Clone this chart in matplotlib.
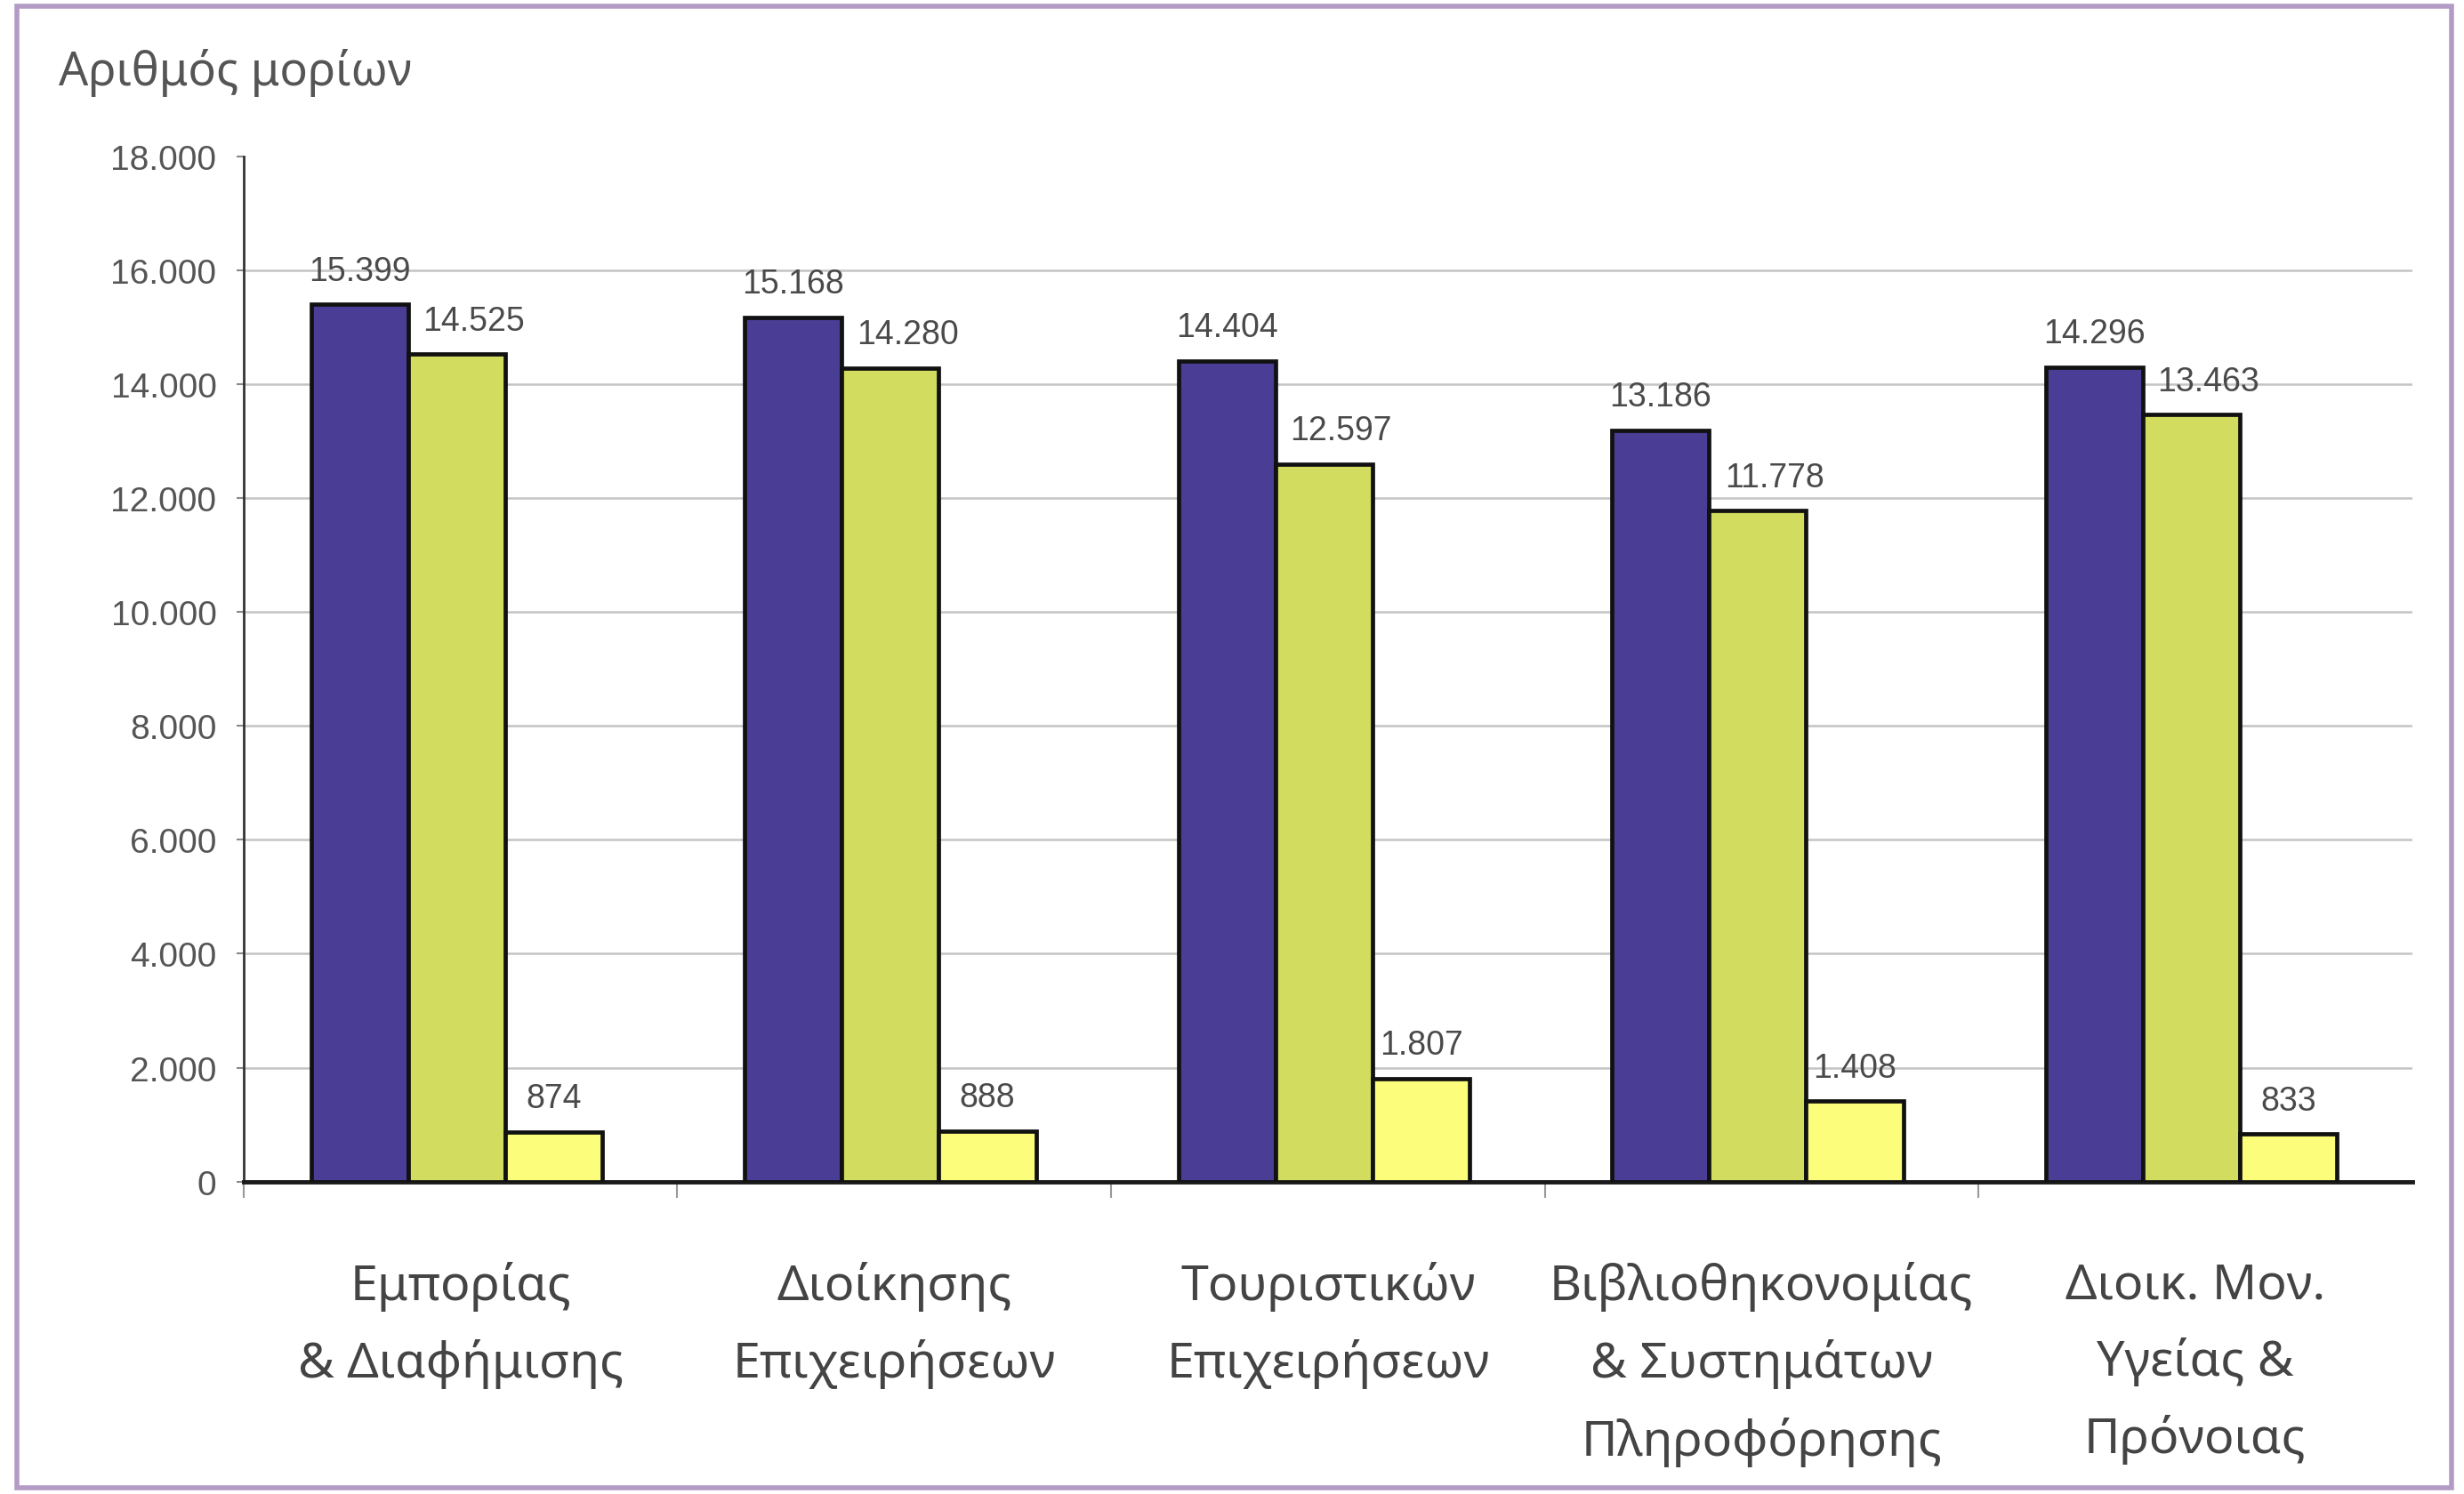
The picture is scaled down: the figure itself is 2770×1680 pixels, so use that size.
import matplotlib
matplotlib.use('Agg')
import matplotlib.pyplot as plt
from matplotlib.patches import Rectangle

# data
categories = ['Εμπορίας\n& Διαφήμισης', 'Διοίκησης\nΕπιχειρήσεων', 'Τουριστικών\nΕπιχειρήσεων',
              'Βιβλιοθηκονομίας\n& Συστημάτων\nΠληροφόρησης', 'Διοικ. Μον.\nΥγείας &\nΠρόνοιας']
series_1 = [15399, 15168, 14404, 13186, 14296]
series_2 = [14525, 14280, 12597, 11778, 13463]
series_3 = [874, 888, 1807, 1408, 833]
y_ticks = [0, 2000, 4000, 6000, 8000, 10000, 12000, 14000, 16000, 18000]
grid_values = [2000, 4000, 6000, 8000, 10000, 12000, 14000, 16000]
y_title = 'Αριθμός μορίων'

colors = ['#4a3d95', '#d2dc5e', '#fdfd7c']
offsets = [-0.233, -0.009, 0.215]
label_dx = [0, 0.04, 0]
width = 0.224


def fmt(v):
    return f'{v:,}'.replace(',', '.')


fig = plt.figure(figsize=(27.7, 16.81), dpi=100)
ax = fig.add_axes([0.0989, 0.209, 0.880, 0.686])

x = list(range(len(categories)))
for s, vals in enumerate([series_1, series_2, series_3]):
    xs = [i + offsets[s] for i in x]
    ax.bar(xs, vals, width=width, color=colors[s], edgecolor='#111111', linewidth=3.4, zorder=3)
    for xi, v in zip(xs, vals):
        ax.annotate(fmt(v), (xi + label_dx[s], v), xytext=(0, 14), textcoords='offset points',
                    ha='center', va='bottom', fontsize=27, color='#4a4a4a',
                    family='Liberation Sans', zorder=4)

ax.hlines(grid_values, -0.5, 4.5, color='#c4c4c4', lw=1.8, zorder=1)

ax.set_xlim(-0.5, 4.5)
ax.set_ylim(0, 18000)
ax.set_yticks(y_ticks)
ax.set_yticklabels([fmt(v) for v in y_ticks], family='Liberation Sans', fontsize=28, color='#555555')
ax.tick_params(axis='y', length=6, width=1.5, color='#888888', pad=16)

ax.set_xticks(x)
ax.set_xticklabels(categories, family='Noto Sans', fontsize=40, color='#444444', linespacing=1.74)
ax.tick_params(axis='x', which='major', length=0, pad=64)
ax.set_xticks([-0.5, 0.5, 1.5, 2.5, 3.5], minor=True)
ax.tick_params(axis='x', which='minor', length=13, width=1.5, color='#999999')

for side in ['top', 'right']:
    ax.spines[side].set_visible(False)
ax.spines['left'].set_color('#333333')
ax.spines['left'].set_linewidth(2)
ax.spines['bottom'].set_color('#1a1a1a')
ax.spines['bottom'].set_linewidth(3.5)

fig.text(0.024, 0.951, y_title, family='Noto Sans', fontsize=37.5, color='#555555', va='center')

fig.patches.append(Rectangle((0.007, 0.004), 0.988, 0.991, transform=fig.transFigure,
                             fill=False, edgecolor='#b39bc6', linewidth=4))

fig.savefig('out.png', dpi=100)
